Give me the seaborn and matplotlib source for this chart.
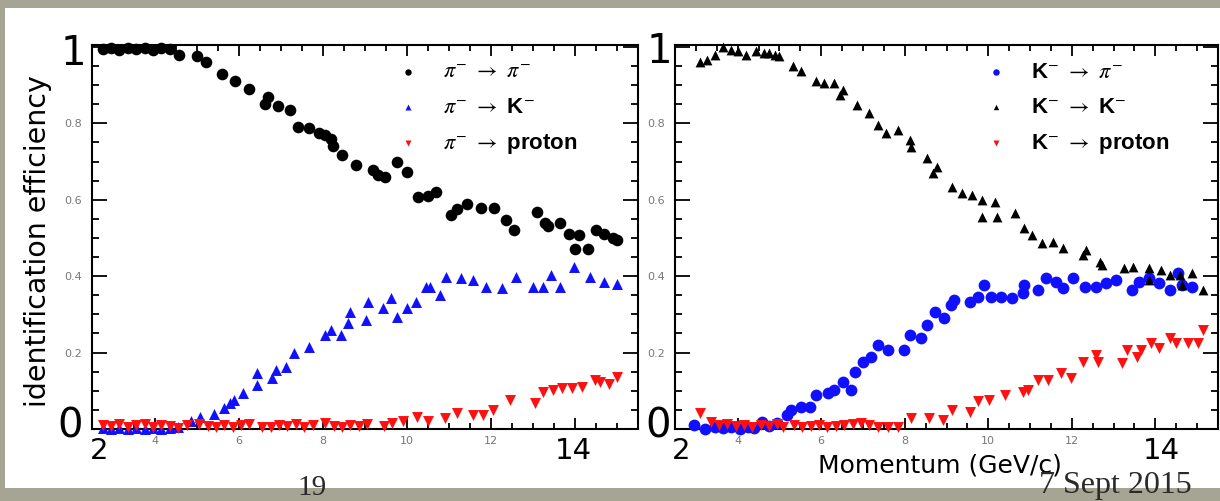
import numpy as np
import pandas as pd
import matplotlib
matplotlib.use("Agg")
import matplotlib.pyplot as plt
from matplotlib.patches import Rectangle
from matplotlib.ticker import MultipleLocator, FixedLocator
import seaborn as sns

# --- data: left panel (pi- beam) ---
pipi_x = [2.75, 2.95, 3.15, 3.35, 3.55, 3.75, 3.95, 4.15, 4.35, 4.57,
          4.99, 5.21, 5.59, 5.91, 6.24, 6.61, 6.70, 6.93, 7.21, 7.40,
          7.67, 7.91, 8.05, 8.19, 8.24, 8.45, 8.79, 9.20, 9.30, 9.48,
          9.76, 9.99, 10.26, 10.50, 10.69, 11.05, 11.20, 11.43, 11.75, 12.07,
          12.35, 12.54, 13.10, 13.28, 13.35, 13.65, 13.85, 14.00, 14.10, 14.30,
          14.50, 14.70, 14.90, 15.00]
pipi_y = [0.995, 0.998, 0.993, 0.998, 0.995, 0.997, 0.993, 0.997, 0.995, 0.980,
          0.975, 0.960, 0.930, 0.910, 0.890, 0.850, 0.870, 0.845, 0.835, 0.790,
          0.788, 0.775, 0.770, 0.760, 0.740, 0.717, 0.690, 0.678, 0.665, 0.660,
          0.700, 0.673, 0.607, 0.610, 0.620, 0.560, 0.575, 0.590, 0.578, 0.578,
          0.547, 0.520, 0.568, 0.540, 0.530, 0.540, 0.510, 0.470, 0.508, 0.470,
          0.520, 0.510, 0.500, 0.495]

piK_x = [2.75, 2.95, 3.15, 3.35, 3.55, 3.75, 3.95, 4.15, 4.35, 4.55,
         4.85, 5.07, 5.40, 5.64, 5.78, 5.87, 6.10, 6.42, 6.42, 6.79,
         6.89, 7.12, 7.30, 7.67, 8.05, 8.18, 8.42, 8.60, 8.64, 9.02,
         9.06, 9.43, 9.62, 9.76, 9.99, 10.22, 10.45, 10.55, 10.78, 10.92,
         11.29, 11.57, 11.88, 12.26, 12.59, 13.00, 13.24, 13.42, 13.64, 13.98,
         14.35, 14.70, 15.00]
piK_y = [0.003, 0.000, 0.002, 0.000, 0.003, 0.000, 0.002, 0.000, 0.003, 0.005,
         0.020, 0.032, 0.040, 0.055, 0.068, 0.076, 0.094, 0.115, 0.146, 0.133,
         0.154, 0.163, 0.198, 0.215, 0.246, 0.259, 0.246, 0.277, 0.307, 0.285,
         0.333, 0.316, 0.342, 0.294, 0.316, 0.333, 0.372, 0.372, 0.350, 0.399,
         0.395, 0.390, 0.372, 0.368, 0.399, 0.372, 0.372, 0.403, 0.372, 0.425,
         0.399, 0.385, 0.380]

pip_x = [2.75, 2.95, 3.15, 3.35, 3.55, 3.75, 3.95, 4.15, 4.35, 4.55,
         4.75, 5.05, 5.25, 5.45, 5.65, 5.85, 6.05, 6.25, 6.55, 6.75,
         6.95, 7.15, 7.35, 7.55, 7.75, 8.05, 8.25, 8.45, 8.65, 8.85,
         9.05, 9.45, 9.65, 9.90, 10.24, 10.50, 10.90, 11.19, 11.57, 11.80,
         12.05, 12.45, 13.05, 13.24, 13.47, 13.69, 13.93, 14.16, 14.48, 14.60,
         14.80, 15.00]
pip_y = [0.010, 0.008, 0.012, 0.006, 0.010, 0.012, 0.005, 0.010, 0.008, 0.003,
         0.010, 0.012, 0.008, 0.005, 0.010, 0.006, 0.010, 0.012, 0.004, 0.006,
         0.010, 0.008, 0.012, 0.005, 0.010, 0.015, 0.008, 0.006, 0.010, 0.008,
         0.012, 0.008, 0.015, 0.020, 0.032, 0.020, 0.028, 0.042, 0.037, 0.037,
         0.050, 0.076, 0.068, 0.098, 0.102, 0.107, 0.107, 0.111, 0.128, 0.122,
         0.118, 0.136]

# --- data: right panel (K- beam) ---
Kpi_x = [2.95, 3.22, 3.45, 3.65, 3.85, 4.05, 4.25, 4.40, 4.58, 4.75,
         4.94, 5.18, 5.28, 5.51, 5.73, 5.88, 6.16, 6.30, 6.53, 6.71,
         6.81, 7.00, 7.19, 7.37, 7.60, 7.98, 8.12, 8.40, 8.53, 8.72,
         8.95, 9.10, 9.18, 9.56, 9.75, 9.89, 10.07, 10.30, 10.58, 10.82,
         10.86, 11.19, 11.38, 11.61, 11.79, 12.03, 12.31, 12.59, 12.82, 13.05,
         13.43, 13.61, 13.85, 14.08, 14.35, 14.54, 14.64, 14.87]
Kpi_y = [0.010, 0.000, 0.005, 0.002, 0.006, 0.000, 0.004, 0.002, 0.019, 0.008,
         0.015, 0.037, 0.050, 0.058, 0.058, 0.089, 0.094, 0.102, 0.124, 0.102,
         0.150, 0.176, 0.189, 0.220, 0.207, 0.207, 0.246, 0.238, 0.272, 0.307,
         0.290, 0.325, 0.338, 0.333, 0.346, 0.377, 0.346, 0.346, 0.342, 0.356,
         0.377, 0.364, 0.395, 0.386, 0.368, 0.395, 0.372, 0.372, 0.382, 0.390,
         0.364, 0.386, 0.395, 0.382, 0.364, 0.408, 0.377, 0.372]

KK_x = [3.09, 3.27, 3.46, 3.64, 3.83, 4.00, 4.20, 4.44, 4.62, 4.76,
        4.90, 4.99, 5.32, 5.51, 5.88, 6.07, 6.30, 6.44, 6.53, 6.86,
        7.14, 7.37, 7.55, 7.84, 8.12, 8.16, 8.53, 8.68, 8.77, 9.13,
        9.37, 9.61, 9.84, 9.84, 10.16, 10.20, 10.63, 10.86, 11.05, 11.29,
        11.56, 11.79, 12.26, 12.35, 12.67, 12.72, 13.24, 13.47, 13.85, 13.85,
        14.13, 14.35, 14.59, 14.64, 14.87, 15.14]
KK_y = [0.961, 0.966, 0.979, 1.000, 0.992, 0.990, 0.979, 0.988, 0.983, 0.983,
        0.979, 0.975, 0.949, 0.936, 0.910, 0.905, 0.905, 0.874, 0.887, 0.848,
        0.827, 0.796, 0.775, 0.783, 0.757, 0.739, 0.709, 0.670, 0.687, 0.634,
        0.617, 0.613, 0.600, 0.556, 0.595, 0.556, 0.565, 0.526, 0.508, 0.487,
        0.490, 0.475, 0.455, 0.469, 0.438, 0.429, 0.421, 0.425, 0.421, 0.390,
        0.416, 0.403, 0.403, 0.377, 0.408, 0.364]

Kp_x = [3.09, 3.36, 3.55, 3.75, 3.95, 4.15, 4.35, 4.55, 4.75, 4.95,
        5.09, 5.35, 5.55, 5.75, 5.95, 6.15, 6.35, 6.55, 6.75, 6.95,
        7.15, 7.35, 7.60, 7.84, 8.16, 8.58, 8.91, 9.13, 9.56, 9.75,
        10.02, 10.40, 10.82, 10.95, 11.19, 11.42, 11.74, 11.98, 12.26, 12.59,
        12.63, 13.19, 13.33, 13.56, 13.66, 13.90, 14.08, 14.35, 14.49, 14.78,
        15.01, 15.14]
Kp_y = [0.041, 0.019, 0.010, 0.012, 0.008, 0.010, 0.006, 0.010, 0.008, 0.012,
        0.006, 0.010, 0.004, 0.008, 0.010, 0.006, 0.008, 0.010, 0.012, 0.015,
        0.010, 0.006, 0.004, 0.006, 0.028, 0.028, 0.024, 0.050, 0.045, 0.072,
        0.076, 0.089, 0.098, 0.102, 0.128, 0.128, 0.146, 0.133, 0.176, 0.194,
        0.176, 0.172, 0.207, 0.189, 0.207, 0.225, 0.212, 0.238, 0.225, 0.225,
        0.225, 0.259]

left_labels = [r'$\pi^{-}$ $\rightarrow$ $\pi^{-}$',
               r'$\pi^{-}$ $\rightarrow$ K$^{-}$',
               r'$\pi^{-}$ $\rightarrow$ proton']
right_labels = [r'K$^{-}$ $\rightarrow$ $\pi^{-}$',
                r'K$^{-}$ $\rightarrow$ K$^{-}$',
                r'K$^{-}$ $\rightarrow$ proton']
xtick_labels = ['', '4', '6', '8', '10', '12', '']
ytick_labels = ['', '0.2', '0.4', '0.6', '0.8', '']

# --- style ---
sns.set_theme(style="ticks")
plt.rcParams['font.family'] = ['DejaVu Sans']
plt.rcParams['mathtext.fontset'] = 'stix'

W, H = 1220, 501
fig = plt.figure(figsize=(W / 100, H / 100), dpi=100)
fig.patch.set_facecolor('#a6a492')
fig.add_artist(Rectangle((5 / W, 1 - 488 / H), 1 - 5 / W, 480 / H,
                         transform=fig.transFigure, facecolor='white',
                         edgecolor='none', zorder=0))

ax1 = fig.add_axes([92 / W, 1 - 429 / H, 546 / W, 384 / H])
ax2 = fig.add_axes([675 / W, 1 - 429 / H, 543 / W, 384 / H])


def draw_series(ax, x, y, color, marker, size, label):
    df = pd.DataFrame({'momentum': x, 'efficiency': y})
    sns.scatterplot(data=df, x='momentum', y='efficiency', ax=ax, color=color,
                    marker=marker, s=size, linewidth=0, label=label,
                    clip_on=False, zorder=3)


draw_series(ax1, pipi_x, pipi_y, 'black', 'o', 70, left_labels[0])
draw_series(ax1, piK_x, piK_y, '#1010ff', '^', 62, left_labels[1])
draw_series(ax1, pip_x, pip_y, '#ff1010', 'v', 62, left_labels[2])

draw_series(ax2, Kpi_x, Kpi_y, '#1010ff', 'o', 72, right_labels[0])
draw_series(ax2, KK_x, KK_y, 'black', '^', 50, right_labels[1])
draw_series(ax2, Kp_x, Kp_y, '#ff1010', 'v', 62, right_labels[2])

for ax, anchor_x in ((ax1, 0.558), (ax2, 0.57)):
    ax.set_facecolor('white')
    ax.set_xlim(2.5, 15.5)
    ax.set_ylim(0, 1.005)
    ax.set_xlabel('')
    ax.set_ylabel('')
    ax.xaxis.set_major_locator(FixedLocator([2, 4, 6, 8, 10, 12, 14]))
    ax.xaxis.set_minor_locator(MultipleLocator(0.5))
    ax.yaxis.set_major_locator(FixedLocator([0, 0.2, 0.4, 0.6, 0.8, 1.0]))
    ax.yaxis.set_minor_locator(MultipleLocator(0.05))
    ax.set_xticklabels(xtick_labels)
    ax.set_yticklabels(ytick_labels)
    ax.tick_params(axis='both', which='both', direction='in', top=True,
                   right=True, color='black', width=1.3, labelcolor='#777777',
                   labelsize=8)
    ax.tick_params(axis='x', which='major', length=8, pad=5)
    ax.tick_params(axis='x', which='minor', length=4)
    ax.tick_params(axis='y', which='major', length=11, pad=7)
    ax.tick_params(axis='y', which='minor', length=5)
    for sp in ax.spines.values():
        sp.set_linewidth(1.5)
        sp.set_color('black')
        sp.set_visible(True)
    ax.legend(loc='upper left', bbox_to_anchor=(anchor_x, 0.955),
              frameon=False, borderpad=0, borderaxespad=0,
              handlelength=1.0, handletextpad=1.1, labelspacing=0.62,
              markerscale=0.55, labelcolor='black',
              prop={'family': 'Liberation Sans', 'weight': 'bold',
                    'size': 16})


def px_text(x, y, s, **kw):
    fig.text(x / W, 1 - y / H, s, ha='center', va='center', **kw)


# big overlay labels from the slide
big = dict(fontsize=29, color='black', family='DejaVu Sans')
px_text(73, 54, '1', **big)
px_text(70, 426, '0', **big)
px_text(659, 52, '1', **big)
px_text(658, 426, '0', **big)
mid = dict(fontsize=21, color='black', family='DejaVu Sans')
px_text(99, 451, '2', **mid)
px_text(573, 451, '14', **mid)
px_text(681, 451, '2', **mid)
px_text(1161, 451, '14', **mid)

fig.text(38 / W, 1 - 241 / H, 'identification efficiency', rotation=90,
         ha='center', va='center', fontsize=20.5, color='black')
px_text(940, 465, 'Momentum (GeV/c)', fontsize=18, color='black')

serif = dict(family='Liberation Serif', color='#2a2a2a')
px_text(312, 488, '19', fontsize=21, **serif)
px_text(1115, 486, '7 Sept 2015', fontsize=23, **serif)

fig.savefig('out.png', dpi=100, facecolor=fig.get_facecolor())
